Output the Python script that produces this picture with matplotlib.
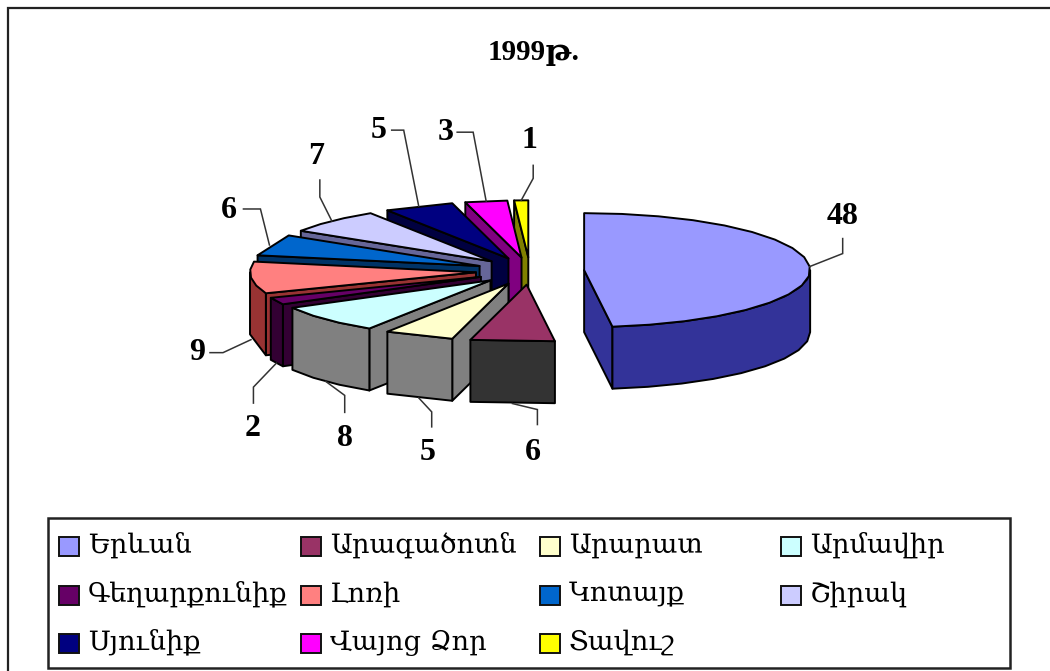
import numpy as np
import matplotlib
matplotlib.use("Agg")
import matplotlib.pyplot as plt
from matplotlib.patches import Polygon, Rectangle

# 1999 data, clockwise from 12 o'clock
regions = ["Երևան", "Արագածոտն", "Արարատ", "Արմավիր", "Գեղարքունիք", "Լոռի",
           "Կոտայք", "Շիրակ", "Սյունիք", "Վայոց Ձոր", "Տավուշ"]
values = [48, 6, 5, 8, 2, 9, 6, 7, 5, 3, 1]
title = "1999թ."

top_colors = ["#9999FF", "#993366", "#FFFFCC", "#CCFFFF", "#660066", "#FF8080",
              "#0066CC", "#CCCCFF", "#000080", "#FF00FF", "#FFFF00"]
wall_colors = ["#333399", "#333333", "#808080", "#808080", "#330033", "#993333",
               "#003366", "#666699", "#000040", "#800080", "#808000"]

# pie geometry (figure pixels)
cx, cy = 530, 271
rx, ry = 226, 57
depth = 62
explode = 0.24

# leader elbows relative to the slice's anchor point, and label centres
leader_elbow = [[(33, -13), (33, -28)], [(25, 6), (25, 21)], [(13, 14), (13, 29)],
                [(19, 14), (19, 31)], [(-23, 24), (-23, 40)], [(-28, 13), (-41, 13)],
                [(-9, -36), (-26, -36)], [(-12, -24), (-12, -41)], [(-15, -76), (-27, -76)],
                [(-13, -69), (-29, -69)], [(12, -22), (12, -35)]]
label_pos = [(843, 216), (533, 452), (428, 453), (345, 438), (253, 429), (197, 353),
             (229, 210), (316, 156), (379, 130), (446, 132), (529, 141)]

plt.rcParams["font.family"] = ["Liberation Serif", "DejaVu Serif", "DejaVu Sans"]

fig = plt.figure(figsize=(10.5, 6.71), dpi=100)
ax = fig.add_axes([0, 0, 1, 1])
ax.set_xlim(0, 1050)
ax.set_ylim(671, 0)
ax.axis("off")


def rim(apex, t):
    return np.column_stack([apex[0] + rx * np.sin(t), apex[1] - ry * np.cos(t)])


def arc(t0, t1):
    # small slices come out as a straight chord, like the old renderer did
    span = t1 - t0
    if span < np.radians(23):
        return np.array([t0, t1])
    return np.linspace(t0, t1, int(np.ceil(span / np.radians(10))) + 1)


def draw_slice(i, t0, t1):
    mid = (t0 + t1) / 2
    apex = (cx + explode * rx * np.sin(mid), cy - explode * ry * np.cos(mid))
    down = np.array([0, depth])
    kw = dict(edgecolor="black", linewidth=1.4, joinstyle="round", facecolor=wall_colors[i])
    # radial side walls
    if np.pi < t0 < 2 * np.pi:
        p = rim(apex, np.array([t0]))[0]
        ax.add_patch(Polygon([apex, p, p + down, np.array(apex) + down], **kw))
    if 0 < t1 < np.pi:
        p = rim(apex, np.array([t1]))[0]
        ax.add_patch(Polygon([apex, p, p + down, np.array(apex) + down], **kw))
    # outer wall, front half only
    a0, a1 = max(t0, np.pi / 2), min(t1, 3 * np.pi / 2)
    if a1 > a0:
        pts = rim(apex, arc(a0, a1))
        ax.add_patch(Polygon(np.vstack([pts, (pts + down)[::-1]]), **kw))
    # top face
    pts = rim(apex, arc(t0, t1))
    ax.add_patch(Polygon(np.vstack([[apex], pts]), facecolor=top_colors[i], edgecolor="black",
                         linewidth=1.4, joinstyle="round"))
    # anchor for the leader line
    anchor = rim(apex, np.array([mid]))[0]
    if np.cos(mid) < 0:
        anchor = anchor + down
    return anchor


angles = np.radians(np.concatenate([[0], np.cumsum(values)]) * 3.6)

# back to front so nearer slices cover the far ones
anchors = {}
for i in range(len(values) - 1, -1, -1):
    anchors[i] = draw_slice(i, angles[i], angles[i + 1])

for i, val in enumerate(values):
    a = anchors[i]
    line = [a] + [a + np.array(e) for e in leader_elbow[i]]
    ax.plot(*zip(*line), color="#333333", lw=1.1, solid_joinstyle="miter")
    ax.text(*label_pos[i], str(val), fontsize=23, fontweight="bold", ha="center", va="center",
            color="black")

ax.text(534, 52, title, fontsize=21, fontweight="bold", ha="center", va="center", color="black")

# chart frame, the scan only shows its left and top sides
ax.plot([8, 8, 1050], [671, 8, 8], color="#222222", lw=1.6, solid_joinstyle="miter")

# legend
ax.add_patch(Rectangle((48, 518), 962, 150, facecolor="white", edgecolor="#222222", lw=1.8))
col_x = [59, 301, 540, 781]
row_y = [546, 595, 643]
for i, name in enumerate(regions):
    x = col_x[i % 4]
    y = row_y[i // 4]
    ax.add_patch(Rectangle((x, y - 9), 20, 19, facecolor=top_colors[i], edgecolor="#111111", lw=1.4))
    ax.text(x + 29, y - 1, name, fontsize=19.5, ha="left", va="center", color="black",
            family=["DejaVu Serif", "DejaVu Sans"])

fig.savefig("out.png", dpi=100, facecolor="white")
